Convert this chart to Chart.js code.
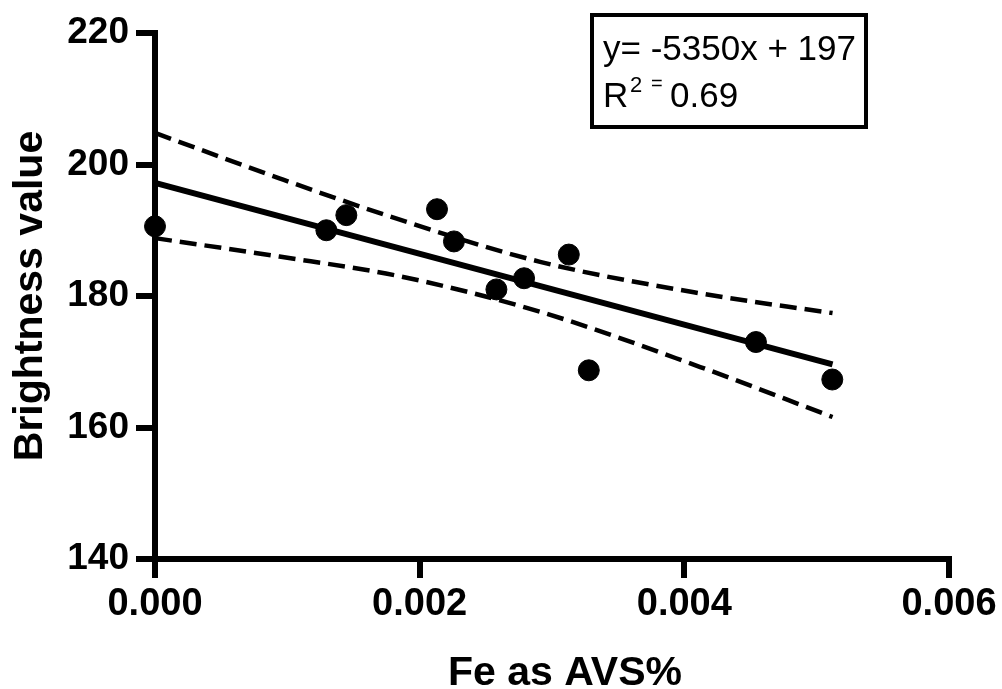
<!DOCTYPE html>
<html>
<head>
<meta charset="utf-8">
<title>Brightness vs Fe as AVS%</title>
<script src="https://cdn.jsdelivr.net/npm/chart.js@4.4.1/dist/chart.umd.min.js"></script>
<style>
  html, body { margin: 0; padding: 0; background: #fff; }
  #wrap { width: 1002px; height: 689px; position: relative; }
</style>
</head>
<body>
<div id="wrap"><canvas id="chart"></canvas></div>
<script>
// measured samples
const feX = [0, 0.001295, 0.001446, 0.002131, 0.002259, 0.00258, 0.002789, 0.003127, 0.003278, 0.004541, 0.005118];
const brightness = [190.6, 190.0, 192.3, 193.2, 188.3, 181.0, 182.7, 186.3, 168.7, 173.0, 167.3];

// regression line ends
const fitX = [0, 0.00512];
const fitY = [197.2, 169.6];

// 95% confidence bands
const bandX = [0, 0.00094, 0.00185, 0.00291, 0.00412, 0.00512];
const upperBand = [204.8, 197.9, 191.6, 185.2, 180.4, 177.4];
const lowerBand = [188.8, 186.0, 183.0, 177.6, 169.2, 161.6];

const xTicks = [0, 0.002, 0.004, 0.006];
const yTicks = [140, 160, 180, 200, 220];

const eqLine = "y= -5350x + 197";
const r2Value = "0.69";

const FONT = "'Liberation Sans', Arial, sans-serif";

const toXY = (xs, ys) => xs.map((x, i) => ({ x, y: ys[i] }));

const dashed = (data) => ({
  type: "line",
  data,
  borderColor: "#000",
  borderWidth: 4.5,
  borderDash: [17, 8],
  pointRadius: 0,
  cubicInterpolationMode: "monotone",
  fill: false,
  clip: false,
});

// equation box + x axis title
const extras = {
  id: "extras",
  afterDraw(chart) {
    const ctx = chart.ctx;
    ctx.save();
    ctx.strokeStyle = "#000";
    ctx.lineWidth = 4;
    ctx.strokeRect(592, 15, 274, 112);

    ctx.fillStyle = "#000";
    ctx.textAlign = "left";
    ctx.textBaseline = "alphabetic";
    ctx.font = `35px ${FONT}`;
    ctx.fillText(eqLine, 603, 60);
    ctx.fillText("R", 603, 107);
    ctx.font = `22px ${FONT}`;
    ctx.fillText("2", 630, 92);
    ctx.font = `20px ${FONT}`;
    ctx.fillText("=", 651, 90);
    ctx.font = `35px ${FONT}`;
    ctx.fillText(r2Value, 670, 107);

    ctx.font = `bold 41px ${FONT}`;
    ctx.fillText("Fe as AVS%", 448, 685);
    ctx.restore();
  },
};

new Chart(document.getElementById("chart"), {
  type: "scatter",
  data: {
    datasets: [
      {
        type: "scatter",
        data: toXY(feX, brightness),
        backgroundColor: "#000",
        borderColor: "#000",
        pointRadius: 10.5,
        clip: false,
      },
      {
        type: "line",
        data: toXY(fitX, fitY),
        borderColor: "#000",
        borderWidth: 6,
        pointRadius: 0,
        fill: false,
        clip: false,
      },
      dashed(toXY(bandX, upperBand)),
      dashed(toXY(bandX, lowerBand)),
    ],
  },
  options: {
    responsive: true,
    maintainAspectRatio: false,
    animation: false,
    layout: { padding: { top: 33, right: 53, left: 0, bottom: 0 } },
    plugins: { legend: { display: false }, tooltip: { enabled: false } },
    scales: {
      x: {
        type: "linear",
        min: 0,
        max: 0.006,
        afterBuildTicks: (s) => { s.ticks = xTicks.map((v) => ({ value: v })); },
        afterFit: (s) => { s.height = 130; },
        border: { display: true, color: "#000", width: 6 },
        grid: { drawOnChartArea: false, drawTicks: true, tickLength: 19, lineWidth: 6, color: "#000" },
        ticks: {
          color: "#000",
          padding: 4,
          font: { family: FONT, size: 38, weight: "bold" },
          callback: (v) => Number(v).toFixed(3),
        },
        title: { display: false },
      },
      y: {
        type: "linear",
        min: 140,
        max: 220,
        afterBuildTicks: (s) => { s.ticks = yTicks.map((v) => ({ value: v })); },
        afterFit: (s) => { s.width = 155; },
        border: { display: true, color: "#000", width: 6 },
        grid: { drawOnChartArea: false, drawTicks: true, tickLength: 19, lineWidth: 6, color: "#000" },
        ticks: {
          color: "#000",
          padding: 7,
          font: { family: FONT, size: 37, weight: "bold" },
        },
        title: {
          display: true,
          text: "Brightness value",
          color: "#000",
          font: { family: FONT, size: 41, weight: "bold", lineHeight: 1.2 },
          padding: { top: 6, bottom: 0 },
        },
      },
    },
  },
  plugins: [extras],
});
</script>
</body>
</html>
